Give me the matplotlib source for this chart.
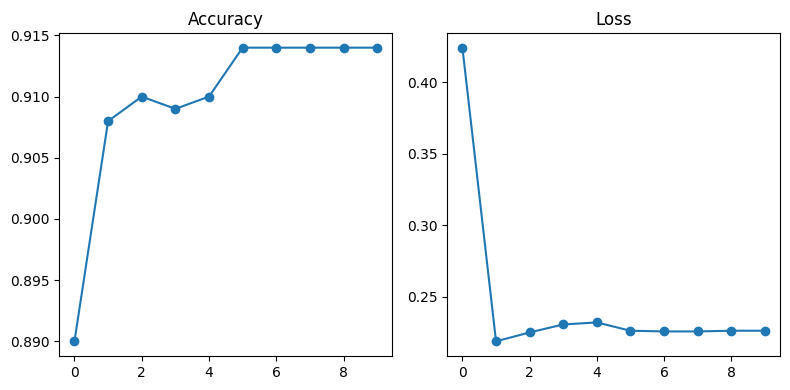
import matplotlib
matplotlib.use("Agg")
import matplotlib.pyplot as plt

epochs = list(range(10))
accuracy = [0.890, 0.908, 0.910, 0.909, 0.910, 0.914, 0.914, 0.914, 0.914, 0.914]
loss = [0.424, 0.2187, 0.2249, 0.2305, 0.2319, 0.2261, 0.2256, 0.2256, 0.2261, 0.2261]

fig = plt.figure(figsize=(7.9, 3.9), dpi=100)
ax1 = fig.add_axes([0.0751, 0.0872, 0.4215, 0.8282])
ax2 = fig.add_axes([0.5662, 0.0872, 0.4211, 0.8282])
ax1.plot(epochs, accuracy, marker='o')
ax1.set_title('Accuracy')
ax2.plot(epochs, loss, marker='o')
ax2.set_title('Loss')
fig.savefig('out.png')
